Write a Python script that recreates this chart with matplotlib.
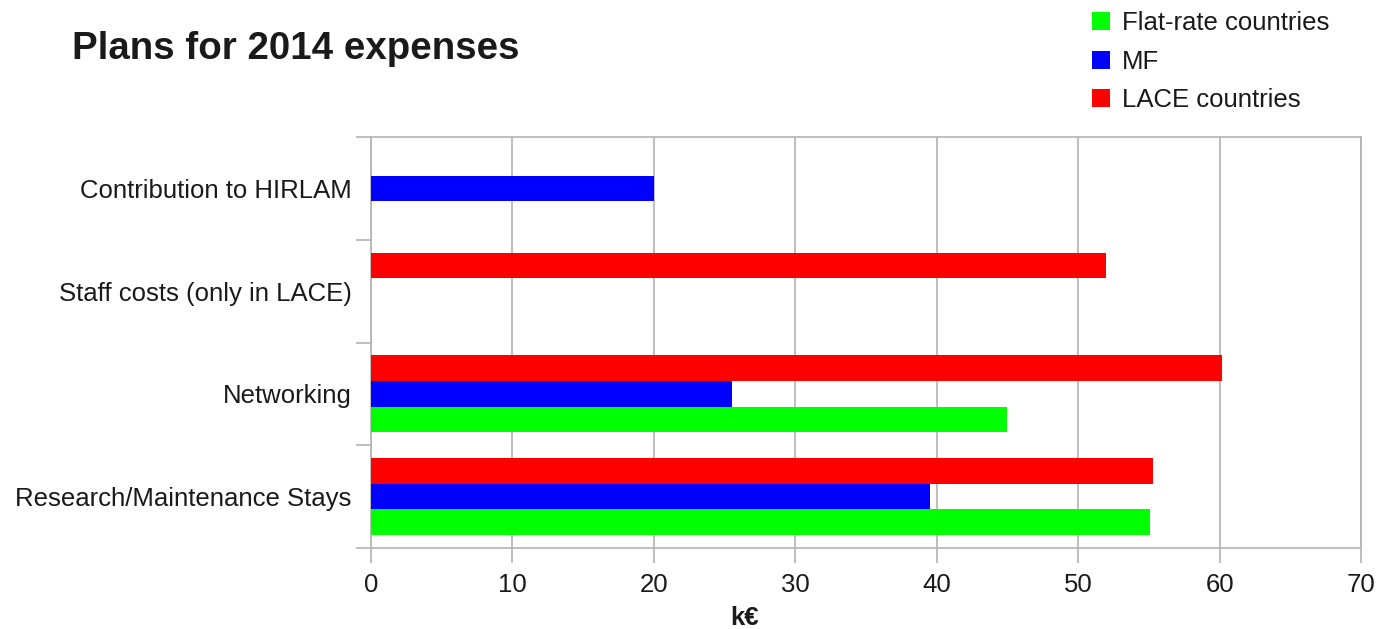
import matplotlib.pyplot as plt
import numpy as np

plt.rcParams['font.family'] = ['Liberation Sans', 'DejaVu Sans']

categories = ['Research/Maintenance Stays', 'Networking', 'Staff costs (only in LACE)', 'Contribution to HIRLAM']
flat_rate = [55.1, 45.0, 0, 0]
mf = [39.5, 25.5, 0, 20]
lace = [55.3, 60.2, 52, 0]
series_names = ['Flat-rate countries', 'MF', 'LACE countries']
colors = ['#00ff00', '#0000ff', '#ff0000']

text_col = '#1a1a1a'
grid_col = '#b3b3b3'

fig = plt.figure(figsize=(13.77, 6.29), dpi=100)
ax = fig.add_axes([371 / 1377, 1 - 548 / 629, 990 / 1377, 411 / 629])

y = np.arange(len(categories))
h = 0.25
bars = []
for i, (vals, name, c) in enumerate(zip([flat_rate, mf, lace], series_names, colors)):
    b = ax.barh(y + (i - 1) * h, vals, height=h, color=c, label=name, zorder=3)
    bars.append(b)

ax.set_xlim(0, 70)
ax.set_ylim(-0.5, len(categories) - 0.5)
ax.set_xticks(np.arange(0, 71, 10))
ax.set_yticks(y)
ax.set_yticklabels(categories)
ax.set_yticks(np.arange(-0.5, len(categories), 1), minor=True)

ax.tick_params(axis='y', which='major', length=0, pad=14, labelsize=18.5, labelcolor=text_col)
ax.tick_params(axis='y', which='minor', length=11, width=1.2, color=grid_col)
ax.tick_params(axis='x', which='major', length=11, width=1.2, color=grid_col, pad=7,
               labelsize=18.5, labelcolor=text_col)

ax.grid(axis='x', color=grid_col, linewidth=1.2, zorder=0)
for s in ax.spines.values():
    s.set_color(grid_col)
    s.set_linewidth(1.2)

ax.set_xlabel('k€', fontsize=18.5, fontweight='bold', color=text_col)
ax.xaxis.set_label_coords((745 - 371) / 990, -0.14)

fig.text(72 / 1377, 1 - 49 / 629, 'Plans for 2014 expenses', fontsize=27.7, fontweight='bold',
         color=text_col, va='center', ha='left')

fig.legend(handles=bars, labels=series_names, loc='upper left',
           bbox_to_anchor=(1069 / 1377, 1 + 12 / 629), frameon=False, fontsize=18.5,
           handlelength=0.7, handleheight=0.7, handletextpad=0.45, labelspacing=0.56,
           labelcolor=text_col)

fig.savefig('out.png', dpi=100)
